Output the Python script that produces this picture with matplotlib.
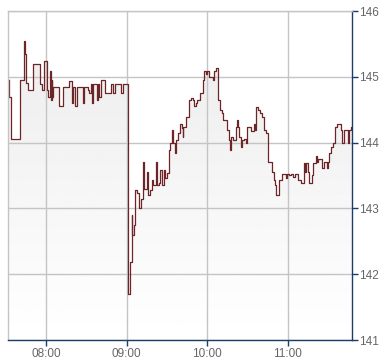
import numpy as np
import matplotlib
matplotlib.use("Agg")
import matplotlib.pyplot as plt
from matplotlib.patches import Polygon

# ───────────── data: step breakpoints (minutes after midnight, price) ─────────────
minutes = [
    452.0, 452.5, 453.9, 460.6, 463.6, 464.3, 465.1, 466.6, 470.3, 475.5,
    477.0, 478.5, 480.7, 481.5, 483.0, 483.3, 484.0, 484.5, 485.2, 489.7,
    492.7, 497.2, 499.4, 500.1, 501.6, 503.1, 507.6, 508.3, 511.3, 512.1,
    513.6, 514.3, 515.0, 518.0, 518.8, 519.5, 521.0, 524.0, 528.5, 530.0,
    531.5, 535.9, 537.4, 541.1, 542.6, 543.7, 544.1, 545.4, 546.4, 547.4,
    549.1, 550.6, 552.3, 553.1, 555.3, 556.1, 557.6, 558.6, 559.8, 561.6,
    562.6, 564.3, 565.0, 566.1, 567.5, 568.5, 570.0, 571.3, 572.2, 573.5,
    574.2, 576.0, 576.5, 578.4, 579.7, 581.2, 581.7, 582.2, 584.0, 586.4,
    587.9, 589.4, 590.4, 591.4, 592.2, 594.6, 596.6, 597.8, 598.9, 599.6,
    601.6, 604.1, 605.1, 606.5, 608.3, 609.5, 611.0, 612.0, 614.5, 616.5,
    617.0, 617.7, 619.4, 621.5, 622.4, 623.2, 623.9, 625.0, 626.3, 627.3,
    629.3, 629.7, 632.3, 635.0, 635.7, 636.7, 637.9, 639.7, 641.2, 642.2,
    644.2, 645.7, 648.1, 650.0, 650.8, 651.5, 653.5, 655.5, 658.5, 659.3,
    661.2, 662.3, 663.8, 665.7, 667.5, 669.7, 672.2, 673.1, 673.9, 674.9,
    675.7, 677.9, 679.1, 680.9, 681.9, 682.8, 685.4, 686.9, 689.1, 690.3,
    691.1, 692.1, 694.1, 695.3, 696.6, 699.8, 700.7, 702.0, 704.7, 705.7,
    707.0, 708.0,
]
prices = [
    144.95, 144.69, 144.05, 144.95, 145.54, 145.34, 144.90, 144.80, 145.19, 144.89,
    144.80, 145.24, 144.80, 144.70, 145.09, 144.65, 144.95, 144.70, 144.84, 144.55,
    144.84, 144.94, 144.60, 144.84, 144.55, 144.84, 144.60, 144.84, 144.80, 144.75,
    144.89, 144.60, 144.89, 144.65, 144.89, 144.70, 144.95, 144.75, 144.89, 144.75,
    144.89, 144.75, 144.89, 141.70, 142.19, 142.90, 142.60, 142.75, 143.28, 143.23,
    143.00, 143.14, 143.70, 143.29, 143.55, 143.20, 143.28, 143.43, 143.36, 143.70,
    143.36, 143.38, 143.58, 143.36, 143.58, 143.46, 143.54, 143.89, 144.00, 144.19,
    144.00, 143.84, 144.04, 144.14, 144.29, 144.22, 144.09, 144.24, 144.39, 144.65,
    144.68, 144.65, 144.55, 144.60, 144.65, 144.75, 144.95, 145.09, 145.04, 145.09,
    144.99, 144.95, 145.09, 145.14, 144.65, 144.50, 144.45, 144.34, 144.19, 144.04,
    143.89, 144.09, 144.04, 144.24, 144.34, 144.24, 144.09, 143.94, 144.04, 144.06,
    143.99, 144.24, 144.17, 144.29, 144.19, 144.54, 144.50, 144.45, 144.39, 144.19,
    144.14, 143.71, 143.55, 143.43, 143.36, 143.20, 143.43, 143.53, 143.46, 143.53,
    143.51, 143.53, 143.48, 143.53, 143.43, 143.38, 143.69, 143.56, 143.69, 143.56,
    143.38, 143.51, 143.69, 143.79, 143.71, 143.75, 143.61, 143.71, 143.61, 143.71,
    143.84, 143.94, 143.99, 144.24, 144.28, 144.19, 143.99, 144.19, 143.99, 144.19,
    144.24, 144.24,
]
tick_minutes = [480, 540, 600, 660]
tick_labels = ["08:00", "09:00", "10:00", "11:00"]
price_ticks = [141, 142, 143, 144, 145, 146]

X_MIN, X_MAX = 451.7, 708.2
Y_MIN, Y_MAX = 141, 146

LINE_COLOR = "#6e2528"
GRID_COLOR = "#c4c4c4"
AXIS_COLOR = "#1d3b6b"
TEXT_COLOR = "#666666"

plt.rcParams["font.family"] = ["Liberation Sans", "DejaVu Sans"]

fig = plt.figure(figsize=(3.90, 3.64), dpi=100)
ax = fig.add_axes([8.3 / 390, 1 - 340 / 364, 344 / 390, 329 / 364])

x = np.array(minutes)
y = np.array(prices)

# ── gradient fill under the step line (grey at top, white at bottom) ──
xs = np.repeat(x, 2)[1:]
ys = np.repeat(y, 2)[:-1]
poly_xy = np.column_stack([np.r_[xs[0], xs, xs[-1]], np.r_[Y_MIN, ys, Y_MIN]])
clip = Polygon(poly_xy, closed=True, facecolor="none", edgecolor="none",
               transform=ax.transData)
ax.add_patch(clip)
grad = np.linspace(0.92, 1.0, 256).reshape(-1, 1)
img = ax.imshow(grad, cmap="gray", vmin=0, vmax=1, aspect="auto",
                extent=[X_MIN, X_MAX, Y_MIN, Y_MAX], origin="upper",
                interpolation="bilinear", zorder=1)
img.set_clip_path(clip)

ax.step(x, y, where="post", color=LINE_COLOR, lw=0.9, zorder=3)

# ── axes styling ──
ax.set_xlim(X_MIN, X_MAX)
ax.set_ylim(Y_MIN, Y_MAX)
ax.set_xticks(tick_minutes)
ax.set_xticklabels(tick_labels)
ax.set_yticks(price_ticks)
ax.yaxis.tick_right()
ax.grid(True, color=GRID_COLOR, lw=1.0)
for gl in ax.get_xgridlines() + ax.get_ygridlines():
    gl.set_zorder(2)

ax.spines["left"].set_color(GRID_COLOR)
ax.spines["top"].set_color(GRID_COLOR)
ax.spines["right"].set_color(AXIS_COLOR)
ax.spines["bottom"].set_color(AXIS_COLOR)
for s in ax.spines.values():
    s.set_linewidth(1.0)
    s.set_zorder(4)

ax.tick_params(axis="x", direction="out", length=4, width=1, color=AXIS_COLOR,
               labelcolor=TEXT_COLOR, labelsize=8.5, pad=2)
ax.tick_params(axis="y", direction="out", length=4, width=1, color=AXIS_COLOR,
               labelcolor=TEXT_COLOR, labelsize=8.5, pad=1)

fig.savefig("out.png", dpi=100)
